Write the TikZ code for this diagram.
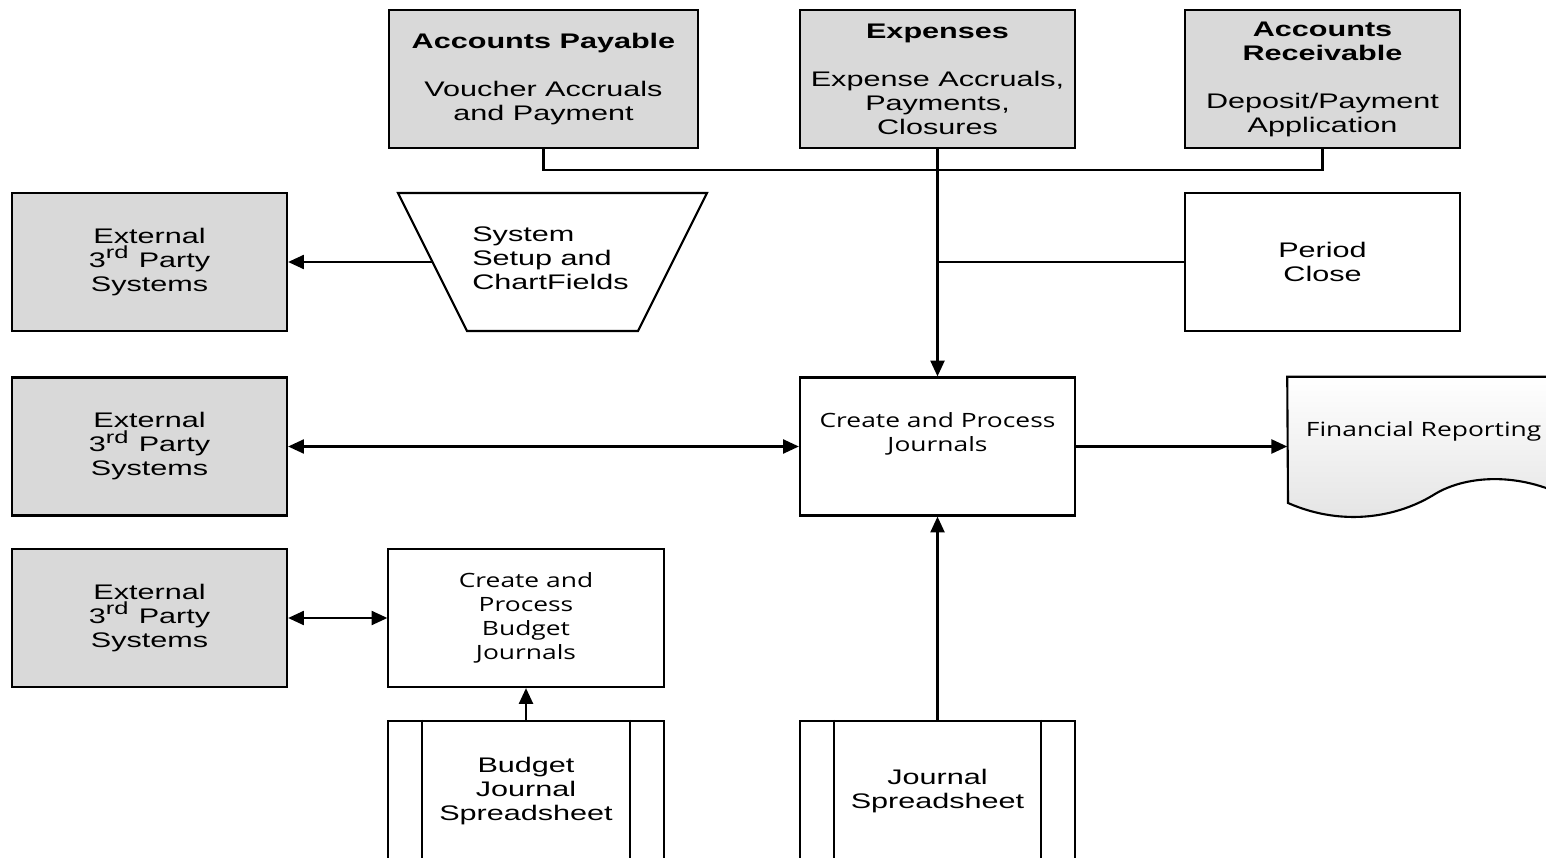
\documentclass[tikz,border=0pt]{standalone}
\usepackage{fontspec}
\setmainfont[FakeStretch=1.45]{Liberation Sans}
\newfontfamily\segfont[FakeStretch=1.34]{Open Sans}
\usetikzlibrary{arrows.meta}
\usetikzlibrary{calc}
\tikzset{box/.style={rectangle,draw=black,line width=0.6pt,inner sep=1pt,
minimum width=2.75cm,minimum height=1.38cm,align=center,
font=\fontsize{6}{6.83}\selectfont},
ledger/.style={box,fill=gray!30},
proc/.style={box,fill=white},
segtext/.style={inner sep=0pt,align=center,font=\segfont\fontsize{5.6}{6.83}\selectfont},
wire/.style={line width=0.6pt},
>={Triangle[length=4.5pt,width=4pt]}}
\newcommand{\sheet}[3]{
\node (#1) [proc,minimum height=1.40cm] at #2 {#3};
\draw [wire] ([xshift=0.35cm]#1.north west) -- ([xshift=0.35cm]#1.south west);
\draw [wire] ([xshift=-0.35cm]#1.north east) -- ([xshift=-0.35cm]#1.south east);
}

\begin{document}
\begin{tikzpicture}[x=0.01cm,y=-0.01cm]
  \useasboundingbox (0,0) rectangle (1546,858);
  \clip (0,0) rectangle (1546,858);

  % ledgers on top
  \node (ap) [ledger,minimum width=3.09cm] at (543.5,79) {\textbf{Accounts Payable}\\ \\Voucher Accruals\\and Payment};
  \node (exp) [ledger] at (937.5,79) {\textbf{Expenses}\\ \\Expense Accruals,\\Payments,\\Closures};
  \node (ar) [ledger] at (1322.5,79) {\textbf{Accounts}\\\textbf{Receivable}\\ \\Deposit/Payment\\Application};

  % second row
  \node (ext1) [ledger] at (149.5,262) {External\\3\textsuperscript{rd} Party\\Systems};
  \coordinate (setupnw) at (398,193);
  \coordinate (setupne) at (707,193);
  \coordinate (setupse) at (638,331);
  \coordinate (setupsw) at (467,331);
  \draw [wire,fill=white] (setupnw) -- (setupne) -- (setupse) -- (setupsw) -- cycle;
  \coordinate (setupleft) at ($(setupnw)!0.5!(setupsw)$);
  \node (setup) [box,draw=none,minimum width=0pt,minimum height=0pt,align=left]
    at (550.5,258) {System\\Setup and\\ChartFields};
  \node (close) [proc] at (1322.5,262) {Period\\Close};

  % journals
  \node (ext2) [ledger] at (149.5,446.5) {External\\3\textsuperscript{rd} Party\\Systems};
  \node (cpj) [proc] at (937.5,446.5) {};
  \node (cpjtext) [segtext,anchor=north] at ($(cpj.north)+(0,35)$) {Create and Process\\Journals};
  \node (fr) [rectangle,minimum width=2.75cm,minimum height=1.38cm] at (1425.5,446.5) {};
  \filldraw [wire,top color=white,bottom color=gray!22]
    (fr.north west) -- (fr.north east) -- (1563,495)
    .. controls (1515,472) and (1465,476) .. (1435,494)
    .. controls (1400,516) and (1345,528) .. (1288,503) -- cycle;
  \node (frtext) [segtext,anchor=north west] at ($(fr.north west)+(18,44)$) {Financial Reporting};

  % budget
  \node (ext3) [ledger] at (149.5,618) {External\\3\textsuperscript{rd} Party\\Systems};
  \node (cbj) [proc] at (526,618) {};
  \node (cbjtext) [segtext] at (cbj) {Create and\\Process\\Budget\\Journals};

  \sheet{bjs}{(526,791)}{Budget\\Journal\\Spreadsheet}
  \sheet{js}{(937.5,791)}{Journal\\Spreadsheet}

  % connectors
  \coordinate (bus) at (937.5,170);
  \draw [wire] (ap.south) |- (bus) -| (ar.south);
  \draw [wire,->] (exp) -- (cpj);
  \draw [wire] (close.west) -- (close.west -| exp.south);
  \draw [wire,->] (setupleft) -- (setupleft -| ext1.east);
  \draw [wire,<->] (ext2) -- (cpj);
  \draw [wire,->] (cpj) -- (fr);
  \draw [wire,<->] (ext3) -- (cbj);
  \draw [wire,->] (bjs) -- (cbj);
  \draw [wire,->] (js) -- (cpj);
\end{tikzpicture}
\end{document}
